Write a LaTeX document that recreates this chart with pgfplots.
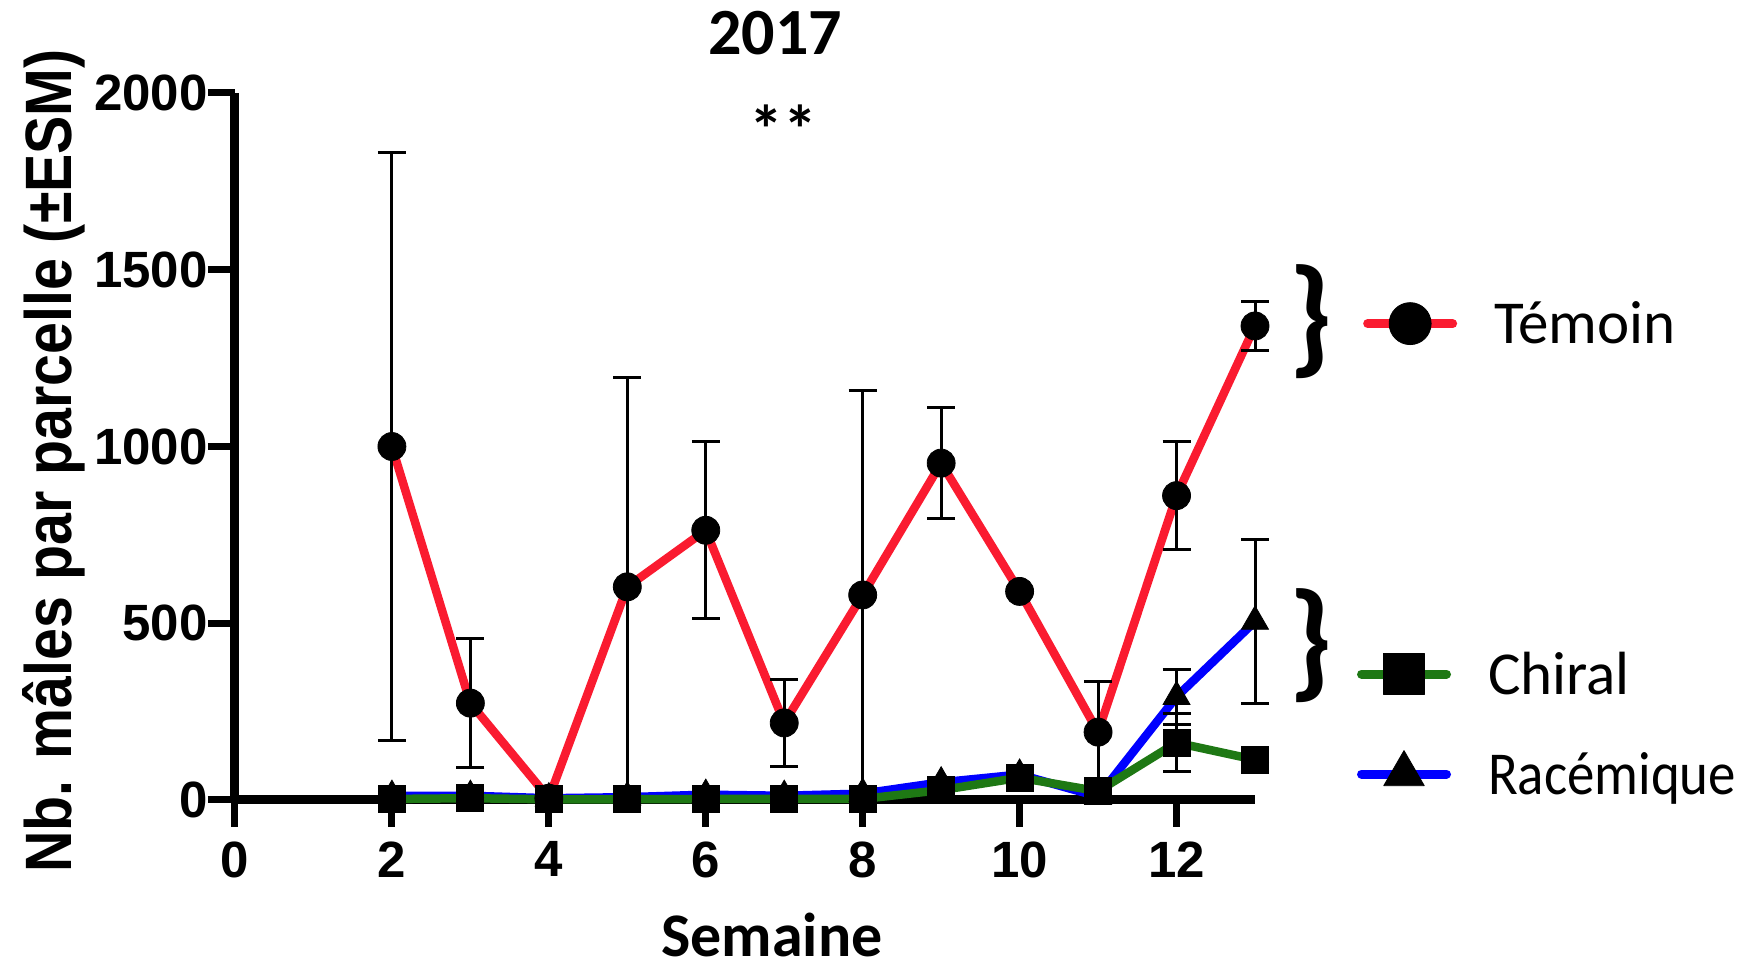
\documentclass[border=0pt]{standalone}
\usepackage{fontspec}
\setmainfont{Liberation Sans}
\newfontfamily\carlito{Carlito}
\usepackage{pgfplots}
\pgfplotsset{compat=1.18}
\usepackage{pgfplotstable}

\definecolor{tred}{RGB}{250,27,48}
\definecolor{cgreen}{RGB}{30,120,20}
\definecolor{rblue}{RGB}{0,0,255}

\pgfplotstableread{
x y e
2 1000 833
3 274 183
4 5 0
5 603 593
6 763 250
7 218 122
8 580 578
9 953 158
10 590 0
11 192 142
12 861 152
13 1341 70
}\temoin

\pgfplotstableread{
x y e
2 3 2
3 5 3
4 2 1
5 2 3
6 3 2
7 3 2
8 3 3
9 28 5
10 63 8
11 25 6
12 162 82
13 114 5
}\chiral

\pgfplotstableread{
x y e
2 12 3
3 12 3
4 5 2
5 8 2
6 15 3
7 12 3
8 18 3
9 50 6
10 72 8
11 10 4
12 292 78
13 505 232
}\racemique

\tikzset{
  mk/.style={solid, black, fill=black, line width=0.4pt},
  tline/.style={tred, line width=4.25pt, line cap=round, line join=round},
  cline/.style={cgreen, line width=4.25pt, line cap=round, line join=round},
  rline/.style={rblue, line width=4.25pt, line cap=round, line join=round},
}
\pgfplotsset{
  myaxis/.style={
    scale only axis, width=510pt, height=353.5pt,
    xmin=0, xmax=13, ymin=0, ymax=2000,
    at={(0,0)}, anchor=origin, clip=false,
  },
  mylegend/.style={
    legend cell align=left,
    legend style={draw=none, fill=none, inner sep=0pt, outer sep=0pt, row sep=0pt,
      font=\carlito\fontsize{30.5}{30.5}\selectfont,
      nodes={inner sep=0pt, text height=25pt, text depth=25pt},
      /tikz/every odd column/.append style={column sep=18.5pt}},
    legend image code/.code={\draw[##1, line cap=round, line width=4.5pt, mark repeat=2, mark phase=2, every mark/.append style={scale=1.5}, yshift=10pt] plot coordinates {(0pt,0pt) (21.25pt,0pt) (42.5pt,0pt)};},
  },
  eb/.style={error bars/.cd, y dir=both, y explicit,
    error bar style={black, line width=1.5pt},
    error mark options={black, line width=1.5pt, mark size=7pt, rotate=90}},
}

\begin{document}
\begin{tikzpicture}
\path[use as bounding box] (-117.5pt,-84pt) rectangle (755pt,400pt);
\begin{axis}[myaxis, mylegend,
  axis lines=left,
  axis line style={line width=4.5pt, -},
  x axis line style={-}, y axis line style={-},
  xtick={0,2,...,12}, ytick={0,500,...,2000},
  tick align=outside, major tick length=13.5pt,
  tick style={line width=3.5pt, black},
  ticklabel style={font=\bfseries\fontsize{25.5}{25.5}\selectfont, inner sep=0pt},
  xticklabel style={yshift=-7pt},
  /pgf/number format/assume math mode=true,
  /pgf/number format/1000 sep={},
  xlabel={Semaine},
  xlabel style={at={(axis description cs:0.5265,-0.2220)}, anchor=base, font=\carlito\bfseries\fontsize{31}{31}\selectfont, inner sep=0pt},
  ylabel={\scalebox{0.874}[1]{Nb. mâles par parcelle (±ESM)}},
  ylabel style={at={(axis description cs:-0.1598,0.4795)}, anchor=base, font=\bfseries\fontsize{32.8}{32.8}\selectfont, inner sep=0pt},
  legend style={at={(axis description cs:1.1,0.0792)}, anchor=west},
]
% lines
\addplot[tline, forget plot] table[x=x, y=y] {\temoin};
\addplot[rline, forget plot] table[x=x, y=y] {\racemique};
\addplot[cline, forget plot] table[x=x, y=y] {\chiral};
% marks and error bars
\addplot[only marks, mark=*, mark size=7pt, mark options={mk}, forget plot, eb] table[x=x, y=y, y error=e] {\temoin};
\addplot[only marks, mark=triangle*, mark size=7.8pt, mark options={mk}, forget plot, eb] table[x=x, y=y, y error=e] {\racemique};
\addplot[only marks, mark=square*, mark size=6.75pt, mark options={mk}, forget plot, eb] table[x=x, y=y, y error=e] {\chiral};
\addlegendimage{cline, mark=square*, mark size=6.75pt, mark options={mk}}
\addlegendentry{Chiral}
\addlegendimage{rline, mark=triangle*, mark size=7.8pt, mark options={mk}}
\addlegendentry{\scalebox{0.9}[1]{Racémique}}
\end{axis}
\begin{axis}[myaxis, mylegend, hide axis,
  legend style={at={(axis description cs:1.106,0.6455)}, anchor=west}]
\addlegendimage{tline, mark=*, mark size=7pt, mark options={mk}}
\addlegendentry{Témoin}
\end{axis}
\node[anchor=base, font=\carlito\bfseries\fontsize{33}{33}\selectfont, inner sep=0pt] at (270pt,372.5pt) {2017};
\node[anchor=base, font=\carlito\bfseries\fontsize{34}{34}\selectfont, inner sep=0pt] at (274pt,323.2pt) {**};
\node[font=\carlito\bfseries\fontsize{65}{65}\selectfont, inner sep=0pt] at (538pt,239.3pt) {\}};
\node[font=\carlito\bfseries\fontsize{65}{65}\selectfont, inner sep=0pt] at (538pt,77.3pt) {\}};
\end{tikzpicture}
\end{document}
